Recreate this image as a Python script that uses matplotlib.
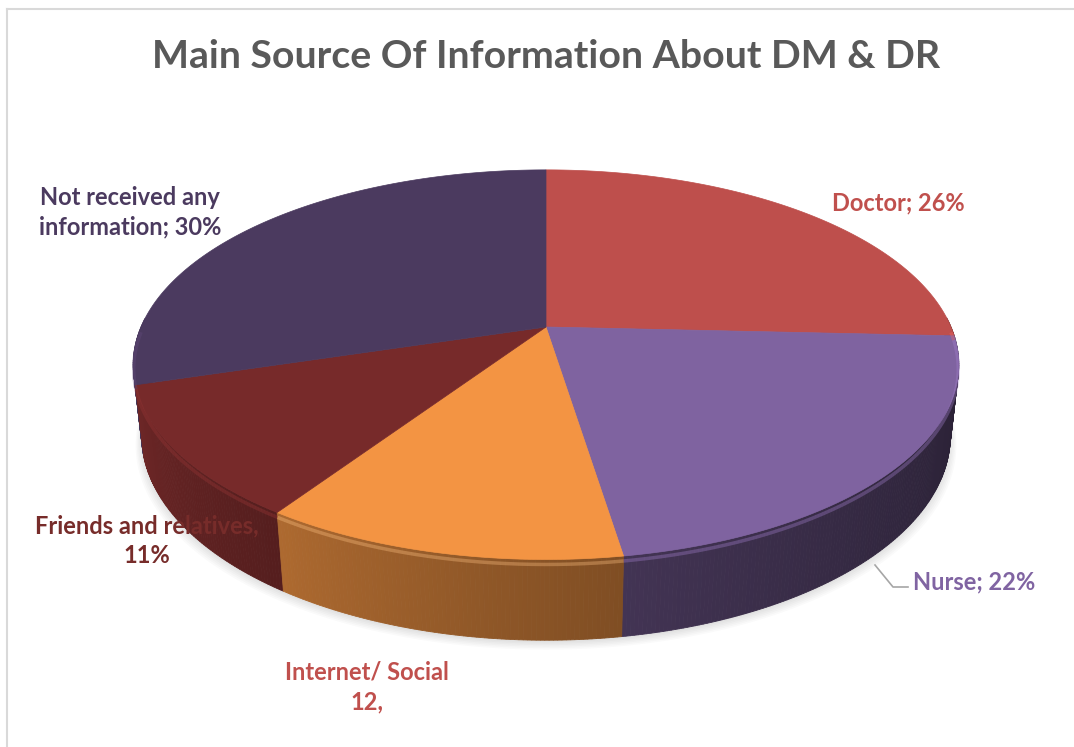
import numpy as np
import matplotlib.pyplot as plt
from matplotlib.patches import Polygon
import matplotlib.colors as mcolors

# ___________________________________________DATA___________________________________________ #
title = "Main Source Of Information About DM & DR"
labels = ["Doctor", "Nurse", "Internet/ Social", "Friends and relatives", "Not received any information"]
values = [26, 22, 12, 11, 30]
label_texts = ["Doctor; 26%", "Nurse; 22%", "Internet/ Social\n12,", "Friends and relatives,\n11%",
               "Not received any\ninformation; 30%"]
top_colors = ["#be4f4c", "#7f63a0", "#f39443", "#772a2a", "#4b3a5f"]
text_colors = ["#c0504d", "#8064a2", "#c0504d", "#772c2a", "#4b3a5f"]

# ___________________________________________GEOMETRY_______________________________________ #
cx, cy = 546, 327          # pie centre in pixels
S = 405                    # scale
se, ce = 0.463, 0.886      # sin/cos of view elevation
D = 4.58                   # camera distance
h = 0.199                  # pie thickness


def proj(th, Y=0.0):
    X = np.sin(th)
    Z = np.cos(th)
    u = Z * se + Y * ce
    w = D + Z * ce - Y * se
    return cx + S * X * D / w, cy - S * u * D / w, w


def shade(col, f):
    r, g, b = mcolors.to_rgb(col)
    return (min(r * f, 1), min(g * f, 1), min(b * f, 1))


fig = plt.figure(figsize=(10.74, 7.47), dpi=100)
ax = fig.add_axes([0, 0, 1, 1])
ax.set_xlim(0, 1074)
ax.set_ylim(747, 0)
ax.axis('off')

# chart border (top and left visible)
ax.plot([7, 1074], [9, 9], color="#d9d9d9", lw=1.5)
ax.plot([7, 7], [9, 747], color="#d9d9d9", lw=1.5)

# slice angles (clockwise from 12 o'clock)
total = float(sum(values))
bounds = np.concatenate([[0], np.cumsum(values) / total * 2 * np.pi])

# soft shadow under the pie
th_all = np.linspace(0, 2 * np.pi, 361)
for k in range(6):
    px, py, _ = proj(th_all, -h)
    sc = 1.0 + 0.003 * k
    pts = np.column_stack([cx + (px - cx) * sc, py + 2 + k * 1.5])
    ax.add_patch(Polygon(pts, closed=True, facecolor="#000000", edgecolor="none", alpha=0.02, zorder=1))

# side walls as small quads, drawn far to near
quads = []
for i in range(len(values)):
    a0, a1 = bounds[i], bounds[i + 1]
    n = max(2, int(np.degrees(a1 - a0) / 0.5))
    ths = np.linspace(a0, a1, n + 1)
    for j in range(n):
        t1, t2 = ths[j], ths[j + 1]
        x1, y1, w1 = proj(t1, 0)
        x2, y2, w2 = proj(t2, 0)
        x3, y3, _ = proj(t2, -h)
        x4, y4, _ = proj(t1, -h)
        tm = 0.5 * (t1 + t2)
        if np.cos(tm) > 0.05:
            continue
        t = np.clip((np.degrees(tm) - 90) / 180.0, 0, 1)
        f = min(0.33 + 0.7 * t ** 1.6, 0.92)
        quads.append((0.5 * (w1 + w2), [(x1, y1), (x2, y2), (x3, y3), (x4, y4)], shade(top_colors[i], f)))

quads.sort(key=lambda q: -q[0])
for _, pts, col in quads:
    ax.add_patch(Polygon(pts, closed=True, facecolor=col, edgecolor=col, lw=0.6, zorder=2))

# top faces
for i in range(len(values)):
    ths = np.linspace(bounds[i], bounds[i + 1], 200)
    px, py, _ = proj(ths, 0)
    pts = np.column_stack([np.concatenate([[cx], px]), np.concatenate([[cy], py])])
    ax.add_patch(Polygon(pts, closed=True, facecolor=top_colors[i], edgecolor=top_colors[i], lw=0.5, zorder=3))
    # bevel highlight along the front rim
    front = ths[np.cos(ths) < 0.0]
    if len(front) > 1:
        bx, by, _ = proj(front, -0.012)
        ax.plot(bx, by, color=shade(top_colors[i], 1.3) if i != 2 else "#ffc283",
                lw=2.5, alpha=0.35, zorder=4, solid_capstyle='butt')

# ___________________________________________TEXT___________________________________________ #
font = "Lato"
ax.text(546, 57, title, ha='center', va='center', fontsize=28.3, fontweight='bold',
        color="#595959", family=font)

ax.text(898, 203, label_texts[0], ha='center', va='center', fontsize=17, fontweight='bold',
        color=text_colors[0], family=font)
ax.text(913, 582, label_texts[1], ha='left', va='center', fontsize=17, fontweight='bold',
        color=text_colors[1], family=font)
ax.plot([875, 893, 908], [565, 587, 587], color="#a6a6a6", lw=1.2, zorder=5)
ax.text(367, 687, label_texts[2], ha='center', va='center', fontsize=17, fontweight='bold',
        color=text_colors[2], family=font, linespacing=1.35, zorder=6)
ax.text(147, 541, label_texts[3], ha='center', va='center', fontsize=17, fontweight='bold',
        color=text_colors[3], family=font, linespacing=1.35, zorder=6)
ax.text(130, 212, label_texts[4], ha='center', va='center', fontsize=17, fontweight='bold',
        color=text_colors[4], family=font, linespacing=1.35, zorder=6)

fig.savefig("out.png", dpi=100)
